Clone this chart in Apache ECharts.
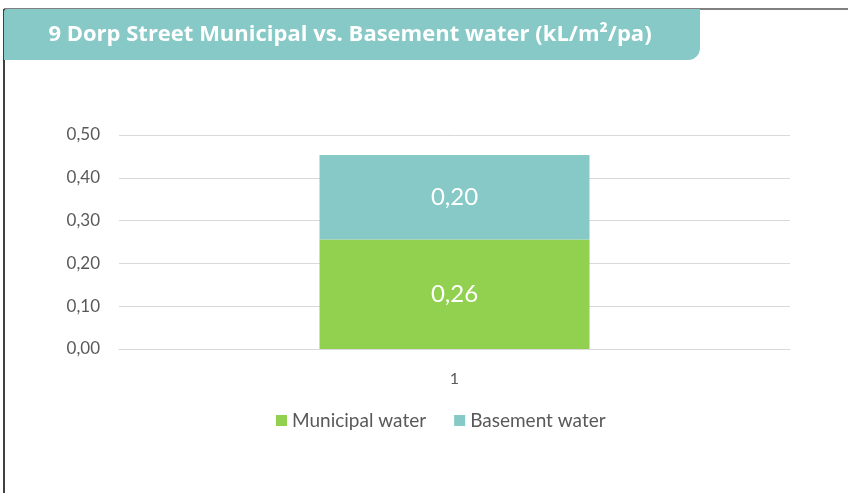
<!DOCTYPE html>
<html>
<head>
<meta charset="utf-8">
<script src="https://cdn.jsdelivr.net/npm/echarts@6/dist/echarts.min.js"></script>
<style>
  html, body { margin: 0; padding: 0; background: #fff; }
  #chart { width: 848px; height: 493px; }
</style>
</head>
<body>
<div id="chart"></div>
<script>
// chart data
const categories = ['1']
const municipalWater = [0.256]
const basementWater = [0.197]
const yTicks = [0, 0.1, 0.2, 0.3, 0.4, 0.5]

const fmt = (v) => v.toFixed(2).replace('.', ',')
const labelFont = 'Lato, "Open Sans", sans-serif'

const myChart = echarts.init(document.getElementById('chart'))

myChart.setOption({
  animation: false,
  textStyle: { fontFamily: labelFont },
  graphic: [
    // outer frame: top and left border
    { type: 'line', shape: { x1: 4, y1: 9, x2: 848, y2: 9 }, style: { stroke: '#808080', lineWidth: 2 } },
    { type: 'line', shape: { x1: 4, y1: 9, x2: 4, y2: 493 }, style: { stroke: '#404040', lineWidth: 2 } },
    // title banner
    {
      type: 'rect',
      shape: { x: 4, y: 9, width: 696, height: 51, r: [3, 0, 12, 0] },
      style: { fill: '#86C9C6' }
    },
    {
      type: 'text',
      x: 350,
      y: 35,
      style: {
        text: '9 Dorp Street Municipal vs. Basement water (kL/m²/pa)',
        fill: '#fff',
        font: 'bold 22px "Open Sans", sans-serif',
        align: 'center',
        verticalAlign: 'middle'
      }
    }
  ],
  grid: { left: 119, right: 58, top: 135, bottom: 144 },
  legend: {
    bottom: 58,
    left: 271,
    itemWidth: 11,
    itemHeight: 11,
    itemGap: 28,
    icon: 'rect',
    textStyle: { fontSize: 19, color: '#595959', fontFamily: labelFont },
    data: ['Municipal water', 'Basement water']
  },
  xAxis: {
    type: 'category',
    data: categories,
    axisLine: { lineStyle: { color: '#D9D9D9' } },
    axisTick: { show: false },
    axisLabel: { color: '#595959', fontSize: 16, margin: 22 }
  },
  yAxis: {
    type: 'value',
    min: yTicks[0],
    max: yTicks[yTicks.length - 1],
    interval: 0.1,
    axisLine: { show: false },
    axisTick: { show: false },
    axisLabel: { color: '#595959', fontSize: 17, margin: 19, formatter: fmt },
    splitLine: { lineStyle: { color: '#D9D9D9' } }
  },
  series: [
    {
      name: 'Municipal water',
      type: 'bar',
      stack: 'water',
      data: municipalWater,
      barWidth: 270,
      itemStyle: { color: '#92D050' },
      label: { show: true, position: 'inside', color: '#fff', fontSize: 24, formatter: (p) => fmt(p.value) }
    },
    {
      name: 'Basement water',
      type: 'bar',
      stack: 'water',
      data: basementWater,
      barWidth: 270,
      itemStyle: { color: '#86C9C6' },
      label: { show: true, position: 'inside', color: '#fff', fontSize: 24, formatter: (p) => fmt(p.value) }
    }
  ]
})
</script>
</body>
</html>
